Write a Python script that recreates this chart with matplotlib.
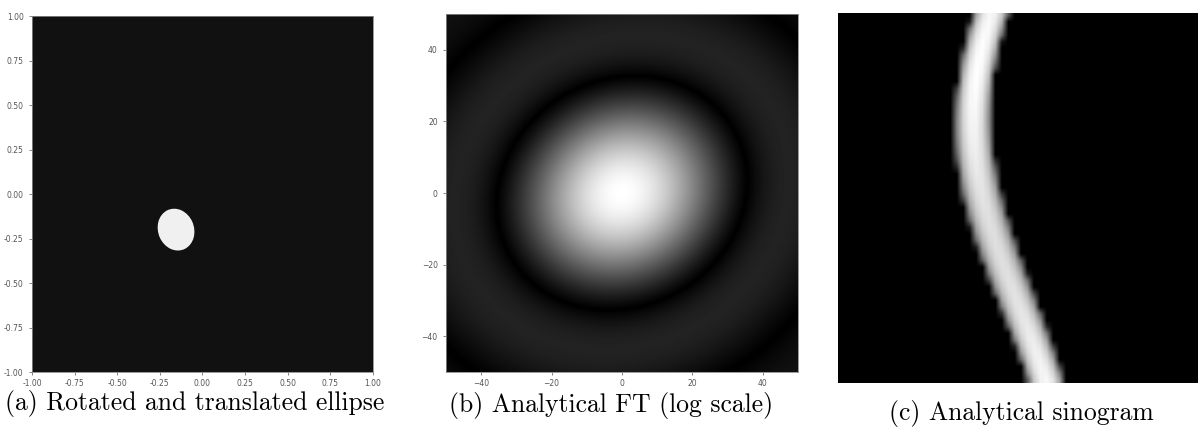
import matplotlib
matplotlib.use('Agg')
import matplotlib.pyplot as plt
from matplotlib.patches import Ellipse
import numpy as np

plt.rcParams['font.size'] = 5.5
plt.rcParams['axes.linewidth'] = 0.6
plt.rcParams['axes.edgecolor'] = '#888888'
plt.rcParams['xtick.major.size'] = 2.5
plt.rcParams['ytick.major.size'] = 2.5
plt.rcParams['xtick.major.width'] = 0.5
plt.rcParams['ytick.major.width'] = 0.5
plt.rcParams['xtick.major.pad'] = 2.5
plt.rcParams['xtick.color'] = '#555555'
plt.rcParams['ytick.color'] = '#555555'

# ellipse parameters
center = [-0.155, -0.2]
semi_axes = [0.12, 0.105]   # first one lies along the rotation angle
angle_deg = 115.0

ticks_a = [-1.0, -0.75, -0.5, -0.25, 0.0, 0.25, 0.5, 0.75, 1.0]
ticks_b = [-40, -20, 0, 20, 40]
k_max = 50
n_k = 400
n_s = 56
n_phi = 56

captions = ['(a) Rotated and translated ellipse',
            '(b) Analytical FT (log scale)',
            '(c) Analytical sinogram']


def bessel_j1(x):
    tau = np.linspace(0, np.pi, 801)
    vals = np.cos(tau[None, :] - x[:, None] * np.sin(tau[None, :]))
    return np.trapezoid(vals, tau, axis=1) / np.pi


a, b = semi_axes
th = np.deg2rad(angle_deg)

fig = plt.figure(figsize=(11.98, 4.28), dpi=100)

# (a) ellipse
ax1 = fig.add_axes([0.0267, 0.1308, 0.2846, 0.8318])
ax1.set_facecolor('#111111')
ax1.add_patch(Ellipse(center, 2 * a, 2 * b, angle=angle_deg,
                      facecolor='#f0f0f0', edgecolor='none'))
ax1.set_xlim(-1, 1)
ax1.set_ylim(-1, 1)
ax1.set_xticks(ticks_a)
ax1.set_yticks(ticks_a)
ax1.set_xticklabels(['%.2f' % t for t in ticks_a])
ax1.set_yticklabels(['%.2f' % t for t in ticks_a])

# (b) analytical FT of the ellipse
k = np.linspace(-k_max, k_max, n_k)
kx, ky = np.meshgrid(k, k)
ku = kx * np.cos(th) + ky * np.sin(th)
kv = -kx * np.sin(th) + ky * np.cos(th)
rho = np.sqrt((a * ku) ** 2 + (b * kv) ** 2)
r1 = np.linspace(0, rho.max() + 0.01, 3000)
j1 = bessel_j1(r1)
jinc = np.ones_like(r1)
jinc[1:] = 2 * j1[1:] / r1[1:]
F = np.pi * a * b * np.interp(rho, r1, jinc)

ax2 = fig.add_axes([0.3723, 0.1308, 0.2938, 0.8364])
ax2.imshow(np.log1p(np.abs(F)), extent=[-k_max, k_max, -k_max, k_max],
           origin='lower', cmap='gray', aspect='auto')
ax2.set_xticks(ticks_b)
ax2.set_yticks(ticks_b)

# (c) analytical sinogram
s = np.linspace(-1, 1, n_s)
phi = np.linspace(0, np.pi, n_phi)
S, P = np.meshgrid(s, phi)
r2 = a ** 2 * np.cos(P - th) ** 2 + b ** 2 * np.sin(P - th) ** 2
s0 = center[0] * np.cos(P) + center[1] * np.sin(P)
t2 = r2 - (S - s0) ** 2
sino = np.where(t2 > 0, 2 * a * b * np.sqrt(np.clip(t2, 0, None)) / r2, 0.0)

ax3 = fig.add_axes([0.6995, 0.1051, 0.3005, 0.8645])
ax3.imshow(sino, cmap='gray', aspect='auto', interpolation='bilinear')
ax3.axis('off')

xs = [195, 611, 1021]
ys = [410, 412, 420]
for cap, x, y in zip(captions, xs, ys):
    fig.text(x / 1198, 1 - y / 428, cap, ha='center', va='baseline',
             fontsize=18.5, family='cmr10')

fig.savefig('out.png', dpi=100)
